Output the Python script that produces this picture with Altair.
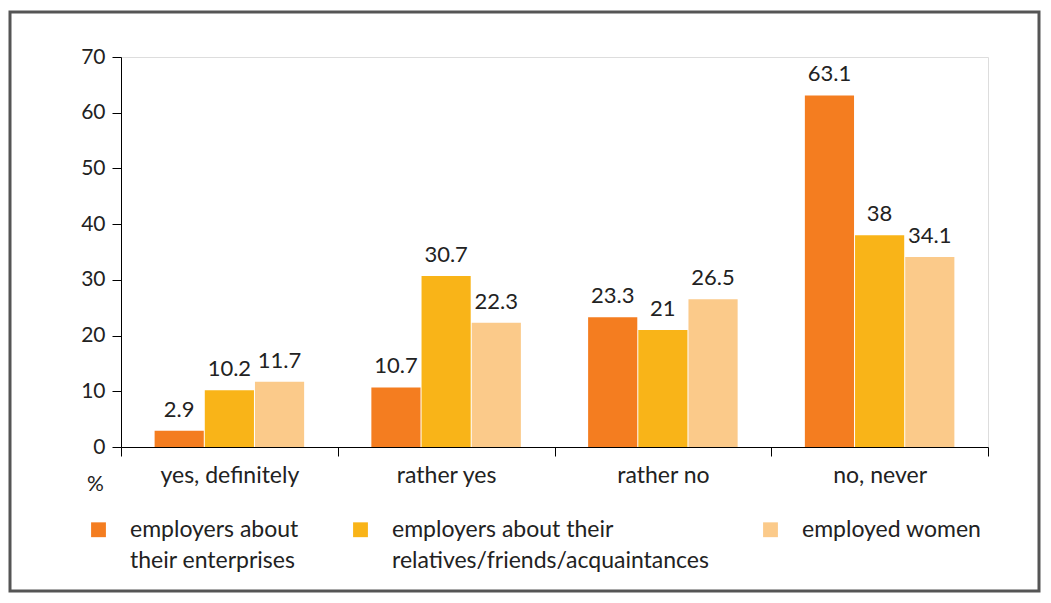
import altair as alt
import pandas as pd

categories = ["yes, definitely", "rather yes", "rather no", "no, never"]
series = [
    "employers about\ntheir enterprises",
    "employers about their\nrelatives/friends/acquaintances",
    "employed women",
]
s1 = [2.9, 10.7, 23.3, 63.1]
s2 = [10.2, 30.7, 21, 38]
s3 = [11.7, 22.3, 26.5, 34.1]
colors = ["#F47D20", "#F9B418", "#FBCA8A"]

rows = []
for vals, s in zip([s1, s2, s3], series):
    for c, v in zip(categories, vals):
        rows.append({"category": c, "series": s, "value": v, "label": f"{v:g}"})
df = pd.DataFrame(rows)

W, H = 867, 390
FONT = "Lato"
TXT = "#222"

x = alt.X("category:N", sort=categories, title=None,
          scale=alt.Scale(paddingInner=0, paddingOuter=0),
          axis=alt.Axis(tickBand="extent", labelAngle=0, labelFontSize=23,
                        labelColor=TXT, labelPadding=8, tickSize=9,
                        domainColor="#000", tickColor="#000", labelFont=FONT))
xo = alt.XOffset("series:N", sort=series,
                 scale=alt.Scale(paddingInner=0.02, paddingOuter=0.67))

base = alt.Chart(df).encode(x=x, xOffset=xo)

label_expr = ("indexof(datum.label, '\\n') >= 0 ? split(datum.label, '\\n')"
              " : [datum.label, ' ']")

bars = base.mark_bar().encode(
    y=alt.Y("value:Q", scale=alt.Scale(domain=[0, 70]),
            axis=alt.Axis(values=list(range(0, 71, 10)), grid=False, title="%",
                          titleAngle=0, titleX=-26, titleY=H + 37,
                          titleAlign="center", titleBaseline="middle",
                          titleFontSize=21, titleFontWeight="normal",
                          titleColor=TXT, titleFont=FONT,
                          labelFontSize=21, labelColor=TXT, labelFont=FONT,
                          domainColor="#000", tickColor="#000", tickSize=9,
                          labelPadding=7)),
    color=alt.Color("series:N", sort=series,
                    scale=alt.Scale(domain=series, range=colors),
                    legend=alt.Legend(title=None, orient="none", direction="horizontal",
                                      columns=3, legendX=-34, legendY=461,
                                      symbolType="square", symbolSize=220,
                                      symbolStrokeWidth=0, labelFontSize=23,
                                      labelFont=FONT, labelColor=TXT,
                                      labelExpr=label_expr,
                                      labelBaseline="middle", labelOffset=20,
                                      columnPadding=50, labelLimit=500, padding=0)),
)

labels = base.mark_text(baseline="bottom", dy=-9, fontSize=22, font=FONT,
                        color=TXT).encode(y="value:Q", text="label:N")

frame = alt.Chart(pd.DataFrame({"k": [0]})).mark_rect(
    filled=False, stroke="#555", strokeWidth=3, clip=False
).encode(x=alt.value(-111), x2=alt.value(W + 51), y=alt.value(-45), y2=alt.value(H + 144))

chart = alt.layer(frame, bars, labels).properties(
    width=W, height=H,
    autosize=alt.AutoSizeParams(type="none"),
    padding={"left": 113, "top": 49, "right": 54, "bottom": 146},
).configure_view(stroke=None).configure(
    background="white",
    style={"guide-label": {"lineHeight": 31}},
)

chart.save("out.html", embed_options={"renderer": "svg", "actions": False})
